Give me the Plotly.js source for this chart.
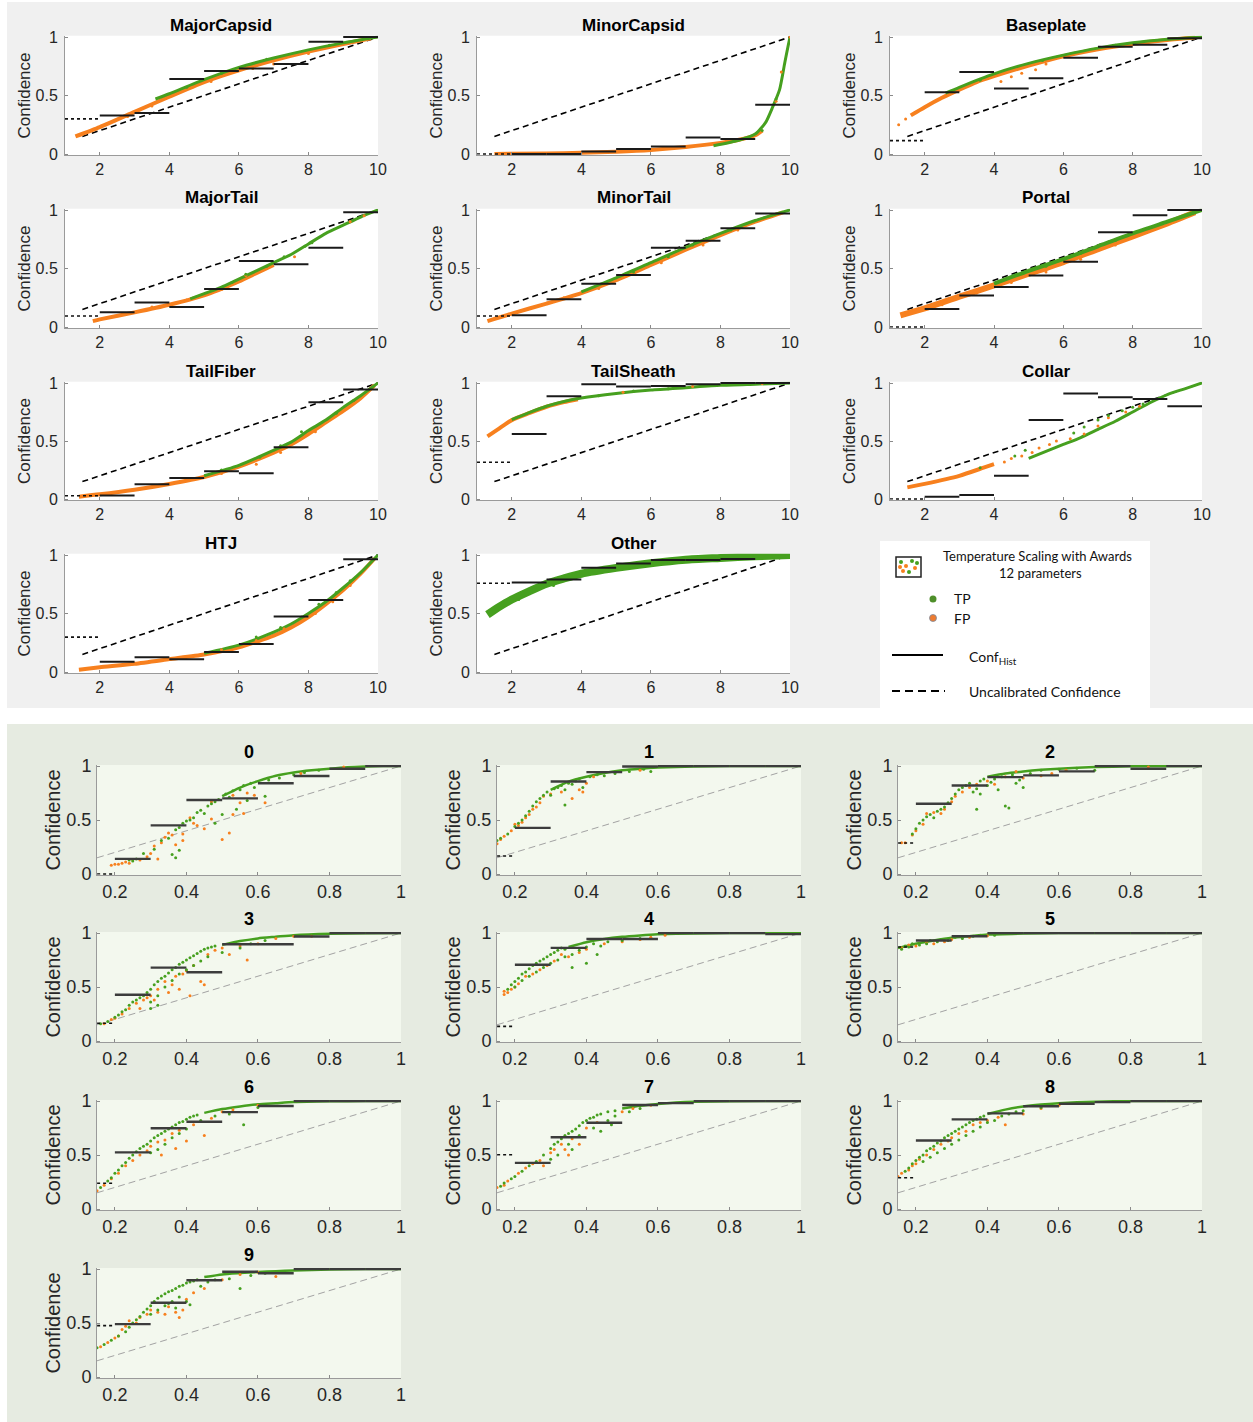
<!DOCTYPE html>
<html><head><meta charset="utf-8">
<script src="https://cdn.plot.ly/plotly-3.0.1.min.js"></script>
<style>html,body{margin:0;padding:0;background:#fff;}#chart{width:1253px;height:1422px;}</style>
</head><body><div id="chart"></div>
<script>
// ---------------- DATA: top panel (per-class calibration) ----------------
const topNames = ['MajorCapsid','MinorCapsid','Baseplate','MajorTail','MinorTail','Portal','TailFiber','TailSheath','Collar','HTJ','Other'];
const topBinEdges = [1,2,3,4,5,6,7,8,9,10];
const topXTickVals = [2,4,6,8,10];
const topXTickText = ['2','4','6','8','10'];
const yTickVals = [0,0.5,1];
const yTickText = ['0','0.5','1'];
const topUncal = [[1.5,0.15],[10,1.0]];
// ConfHist per bin (first bin drawn dotted)
const topHist = [
  [0.30,0.33,0.35,0.64,0.71,0.73,0.77,0.96,1.00],
  [0.00,0.00,0.00,0.022,0.043,0.065,0.142,0.129,0.42],
  [0.114,0.528,0.70,0.56,0.648,0.823,0.917,0.934,0.99],
  [0.094,0.126,0.21,0.17,0.325,0.564,0.536,0.678,0.98],
  [0.094,0.10,0.237,0.37,0.444,0.678,0.738,0.843,0.97],
  [0.00,0.154,0.27,0.342,0.44,0.558,0.81,0.955,1.00],
  [0.028,0.03,0.128,0.18,0.24,0.223,0.446,0.834,0.943],
  [0.317,0.56,0.885,0.99,0.97,0.975,0.99,1.00,1.00],
  [0.00,0.02,0.034,0.20,0.68,0.91,0.877,0.862,0.80],
  [0.298,0.088,0.125,0.11,0.17,0.239,0.474,0.616,0.963],
  [0.758,0.765,0.79,0.89,0.927,0.957,0.957,0.965,null]
];
// TP band (green) read along the dense cloud
const topTPcurve = [
  [[3.6,0.47],[4,0.515],[5,0.635],[6,0.74],[7,0.82],[8,0.89],[9,0.95],[10,1.0]],
  [[7.8,0.07],[8.5,0.115],[9.0,0.17],[9.3,0.27],[9.5,0.4],[9.7,0.55],[9.85,0.78],[9.95,0.93],[10,1.0]],
  [[2.6,0.52],[3,0.57],[4,0.685],[5,0.775],[6,0.845],[7,0.905],[8,0.95],[9,0.98],[10,1.0]],
  [[4.6,0.24],[5.5,0.34],[6.5,0.48],[7,0.55],[7.5,0.62],[8,0.71],[8.5,0.8],[9,0.87],[9.5,0.94],[10,1.0]],
  [[4,0.3],[5,0.42],[6,0.55],[7,0.68],[8,0.8],[9,0.91],[10,1.0]],
  [[4,0.37],[5,0.48],[6,0.58],[7,0.69],[8,0.8],[9,0.9],[10,1.0]],
  [[5,0.2],[6,0.29],[7,0.42],[7.5,0.49],[8,0.59],[8.5,0.68],[9,0.79],[9.5,0.89],[10,1.0]],
  [[2,0.685],[2.5,0.745],[3,0.8],[3.5,0.84],[4,0.87],[5,0.91],[6,0.94],[7,0.96],[8,0.98],[9,0.99],[10,1.0]],
  [[5,0.35],[5.5,0.41],[6,0.47],[6.5,0.53],[7,0.6],[7.5,0.67],[8,0.75],[8.5,0.83],[9,0.9],[9.5,0.95],[10,1.0]],
  [[5,0.16],[6,0.23],[7,0.34],[7.5,0.41],[8,0.5],[8.5,0.6],[9,0.72],[9.5,0.85],[10,1.0]],
  [[1.3,0.49],[1.6,0.55],[2,0.62],[2.5,0.69],[3,0.755],[3.5,0.8],[4,0.84],[5,0.89],[6,0.93],[7,0.96],[8,0.975],[9,0.99],[10,1.0]]
];
// FP band (orange)
const topFPcurve = [
  [[1.3,0.15],[2,0.23],[3,0.36],[4,0.49],[5,0.615],[6,0.715],[7,0.8],[8,0.875],[9,0.94],[9.8,0.99]],
  [[1.5,0.0],[3,0.005],[4,0.01],[5,0.02],[6,0.035],[7,0.06],[8,0.095],[8.5,0.12],[9,0.16],[9.2,0.2]],
  [[1.6,0.33],[2,0.4],[2.5,0.48],[3,0.55],[3.5,0.615],[4,0.665],[5,0.755],[6,0.835],[7,0.895],[8,0.94],[9,0.975],[9.8,0.995]],
  [[1.8,0.05],[2,0.065],[3,0.125],[4,0.19],[5,0.27],[6,0.39],[6.5,0.46],[7,0.53]],
  [[1.3,0.05],[2,0.115],[3,0.2],[4,0.29],[5,0.4],[6,0.53],[7,0.66],[8,0.785],[9,0.9],[9.8,0.98]],
  [[1.3,0.1],[2,0.16],[3,0.26],[4,0.355],[5,0.455],[6,0.555],[7,0.665],[8,0.775],[9,0.885],[9.8,0.98]],
  [[1.4,0.02],[2,0.04],[3,0.08],[4,0.13],[5,0.19],[6,0.28],[7,0.4],[7.5,0.47],[8,0.56],[8.5,0.66],[9,0.76],[9.5,0.87],[9.9,0.98]],
  [[1.3,0.54],[1.6,0.6],[2,0.68],[2.5,0.74],[3,0.795],[3.5,0.835],[3.9,0.86]],
  [[1.5,0.1],[2,0.13],[3,0.2],[3.7,0.27],[4,0.3]],
  [[1.4,0.02],[2,0.04],[3,0.07],[4,0.11],[5,0.15],[6,0.21],[7,0.31],[7.5,0.38],[8,0.47],[8.5,0.58],[9,0.7],[9.5,0.84],[9.9,0.97]],
  []
];
// scattered TP / FP dots off the bands
const topTPpts = [
  [[4.5,0.57],[5.5,0.69],[6.8,0.81],[8.6,0.93]],
  [[9.2,0.2],[9.6,0.47]],
  [[3.6,0.63],[5.4,0.8],[7.5,0.93]],
  [[5.8,0.38],[6.2,0.45],[6.8,0.52],[7.3,0.6],[7.9,0.69],[8.1,0.72]],
  [[5.5,0.47],[6.5,0.6],[7.2,0.7],[8.3,0.83],[8.6,0.85]],
  [[5.5,0.52],[6.5,0.63],[7.5,0.74],[8.5,0.85]],
  [[5.5,0.25],[6.6,0.36],[7.2,0.46],[7.8,0.58],[8.8,0.74],[9.3,0.85]],
  [[4.5,0.89],[5.5,0.93],[6.5,0.95]],
  [[3.6,0.27],[4.6,0.37],[4.9,0.42],[6.3,0.57],[6.6,0.62],[7.0,0.68],[7.3,0.72],[7.7,0.76],[8.0,0.79],[8.3,0.82]],
  [[6.5,0.3],[7.2,0.38],[7.8,0.47],[8.3,0.58],[8.8,0.68],[9.2,0.78]],
  [[2.2,0.62],[3.2,0.74],[4.5,0.85],[5.5,0.9],[6.5,0.93]]
];
const topFPpts = [
  [[2.8,0.32],[3.5,0.41],[5.2,0.62],[6.4,0.73],[7,0.77],[8,0.86]],
  [[9.6,0.45],[9.75,0.7],[10,1.0]],
  [[1.25,0.25],[1.45,0.3],[4.2,0.62],[4.5,0.66],[4.8,0.69],[5.2,0.72],[5.5,0.77]],
  [[3.5,0.17],[4.5,0.23],[5.5,0.32],[6.2,0.44],[7.6,0.6],[9.2,0.9],[9.6,0.95]],
  [[3.5,0.25],[4.5,0.33],[5.5,0.46],[6.3,0.55],[7.5,0.7],[8.5,0.83]],
  [[2.5,0.19],[3.5,0.29],[4.5,0.38],[5.5,0.47],[6.5,0.58],[7.5,0.7]],
  [[4.5,0.17],[5.5,0.22],[6.5,0.3],[7.2,0.4],[8.2,0.58]],
  [[5.2,0.92],[7.2,0.97],[9.2,0.995]],
  [[4.3,0.32],[4.5,0.35],[4.8,0.37],[5.1,0.4],[5.3,0.44],[5.6,0.47],[5.8,0.5],[6.2,0.52],[6.6,0.56],[7.0,0.63],[7.3,0.7],[7.8,0.75],[8.2,0.8]],
  [[5.5,0.19],[6.5,0.27],[7.3,0.37],[8.2,0.5],[8.7,0.6],[9.2,0.74]],
  []
];

// ---------------- DATA: bottom panel (digits 0-9) ----------------
const botNames = ['0','1','2','3','4','5','6','7','8','9'];
const botBinEdges = [0.1,0.2,0.3,0.4,0.5,0.6,0.7,0.8,0.9,1.0];
const botXTickVals = [0.2,0.4,0.6,0.8,1];
const botXTickText = ['0.2','0.4','0.6','0.8','1'];
const botUncal = [[0.15,0.15],[1.0,1.0]];
const botHist = [
  [0.00,0.14,0.45,0.685,0.70,0.84,0.908,0.975,1.0],
  [0.167,0.427,0.857,0.943,0.995,1.0,1.0,1.0,1.0],
  [0.287,0.65,0.82,0.897,0.913,0.95,1.0,0.975,1.0],
  [0.165,0.428,0.679,0.636,0.896,0.896,0.967,1.0,1.0],
  [0.135,0.706,0.862,0.945,0.945,1.0,1.0,1.0,0.99],
  [0.87,0.93,0.97,1.0,1.0,1.0,1.0,1.0,1.0],
  [0.238,0.524,0.747,0.808,0.897,0.954,1.0,1.0,1.0],
  [0.503,0.427,0.665,0.799,0.963,0.98,1.0,1.0,1.0],
  [0.29,0.634,0.83,0.885,0.951,0.975,0.99,1.0,1.0],
  [0.476,0.49,0.687,0.896,0.975,0.96,1.0,1.0,1.0]
];
const botTPcurve = [
  [[0.5,0.72],[0.55,0.8],[0.6,0.86],[0.65,0.91],[0.7,0.94],[0.75,0.96],[0.8,0.975],[0.85,0.988],[0.9,0.995],[0.95,0.999],[1.0,1.0]],
  [[0.3,0.78],[0.35,0.855],[0.4,0.9],[0.45,0.935],[0.5,0.96],[0.55,0.975],[0.6,0.985],[0.7,0.995],[0.8,1.0],[1.0,1.0]],
  [[0.4,0.9],[0.45,0.93],[0.5,0.95],[0.55,0.965],[0.6,0.975],[0.7,0.99],[0.8,0.997],[1.0,1.0]],
  [[0.5,0.89],[0.55,0.925],[0.6,0.95],[0.65,0.965],[0.7,0.98],[0.8,0.993],[0.9,0.998],[1.0,1.0]],
  [[0.35,0.87],[0.4,0.915],[0.45,0.945],[0.5,0.965],[0.55,0.978],[0.6,0.988],[0.7,0.996],[0.8,0.999],[1.0,1.0]],
  [[0.15,0.86],[0.2,0.9],[0.25,0.93],[0.3,0.955],[0.35,0.97],[0.4,0.985],[0.5,0.995],[0.6,1.0],[1.0,1.0]],
  [[0.45,0.89],[0.5,0.925],[0.55,0.95],[0.6,0.97],[0.65,0.98],[0.7,0.99],[0.8,0.997],[0.9,1.0],[1.0,1.0]],
  [[0.5,0.93],[0.55,0.955],[0.6,0.972],[0.65,0.985],[0.7,0.993],[0.8,0.998],[1.0,1.0]],
  [[0.4,0.88],[0.45,0.92],[0.5,0.95],[0.55,0.968],[0.6,0.98],[0.65,0.988],[0.7,0.994],[0.8,0.999],[1.0,1.0]],
  [[0.45,0.925],[0.5,0.95],[0.55,0.962],[0.6,0.972],[0.65,0.98],[0.7,0.986],[0.8,0.995],[0.9,0.999],[1.0,1.0]]
];
const botTPpts = [
  [[0.24,0.13],[0.25,0.12],[0.26,0.14],[0.28,0.19],[0.31,0.23],[0.33,0.31],[0.35,0.33],[0.36,0.18],[0.37,0.15],[0.37,0.41],[0.38,0.43],[0.38,0.22],[0.39,0.47],[0.4,0.49],[0.41,0.5],[0.42,0.52],[0.43,0.57],[0.44,0.59],[0.45,0.56],[0.46,0.63],[0.47,0.65],[0.48,0.67],[0.48,0.47],[0.49,0.69],[0.5,0.55],[0.51,0.74],[0.52,0.71],[0.53,0.77],[0.54,0.6],[0.55,0.78],[0.56,0.82],[0.57,0.68],[0.58,0.84],[0.59,0.8],[0.62,0.72],[0.63,0.87],[0.66,0.89],[0.7,0.92],[0.73,0.94],[0.77,0.96]],
  [[0.15,0.31],[0.16,0.33],[0.18,0.37],[0.2,0.44],[0.21,0.47],[0.22,0.5],[0.23,0.54],[0.24,0.58],[0.25,0.63],[0.26,0.67],[0.27,0.7],[0.28,0.73],[0.29,0.76],[0.3,0.73],[0.31,0.79],[0.32,0.8],[0.33,0.82],[0.34,0.78],[0.35,0.84],[0.36,0.83],[0.37,0.86],[0.38,0.88],[0.34,0.64],[0.39,0.8],[0.41,0.9],[0.43,0.92],[0.45,0.91],[0.48,0.93],[0.52,0.95],[0.56,0.97],[0.58,0.95]],
  [[0.19,0.37],[0.2,0.42],[0.21,0.47],[0.22,0.5],[0.23,0.53],[0.24,0.55],[0.25,0.52],[0.26,0.58],[0.27,0.6],[0.28,0.62],[0.29,0.66],[0.3,0.7],[0.31,0.74],[0.32,0.78],[0.33,0.8],[0.34,0.82],[0.35,0.84],[0.36,0.76],[0.37,0.79],[0.38,0.74],[0.38,0.86],[0.39,0.88],[0.4,0.82],[0.41,0.85],[0.42,0.88],[0.43,0.78],[0.44,0.9],[0.45,0.63],[0.46,0.61],[0.47,0.92],[0.48,0.84],[0.49,0.87],[0.5,0.8],[0.52,0.93],[0.55,0.96],[0.6,0.97],[0.65,0.98],[0.7,0.96],[0.37,0.6]],
  [[0.16,0.16],[0.18,0.18],[0.2,0.22],[0.21,0.24],[0.22,0.27],[0.23,0.29],[0.24,0.33],[0.25,0.36],[0.26,0.38],[0.27,0.4],[0.28,0.42],[0.29,0.45],[0.3,0.48],[0.31,0.52],[0.32,0.55],[0.33,0.58],[0.34,0.6],[0.35,0.63],[0.36,0.66],[0.37,0.68],[0.38,0.71],[0.39,0.73],[0.4,0.75],[0.41,0.77],[0.42,0.79],[0.43,0.81],[0.44,0.83],[0.45,0.85],[0.46,0.86],[0.47,0.87],[0.48,0.88],[0.3,0.36],[0.32,0.42],[0.34,0.5],[0.36,0.56],[0.38,0.62],[0.4,0.66],[0.42,0.7],[0.44,0.74],[0.46,0.78],[0.5,0.82],[0.55,0.86],[0.58,0.9],[0.62,0.93],[0.3,0.3],[0.32,0.33]],
  [[0.18,0.48],[0.19,0.52],[0.2,0.55],[0.21,0.58],[0.22,0.62],[0.23,0.64],[0.24,0.67],[0.25,0.7],[0.26,0.72],[0.27,0.74],[0.28,0.76],[0.29,0.78],[0.3,0.8],[0.31,0.82],[0.32,0.84],[0.33,0.86],[0.34,0.85],[0.2,0.5],[0.22,0.56],[0.24,0.6],[0.26,0.64],[0.28,0.68],[0.3,0.72],[0.32,0.75],[0.34,0.78],[0.36,0.8],[0.38,0.84],[0.4,0.87],[0.42,0.9],[0.44,0.88],[0.46,0.92],[0.5,0.93],[0.55,0.95],[0.36,0.68],[0.4,0.72],[0.43,0.8]],
  [[0.16,0.85],[0.17,0.88],[0.18,0.87],[0.19,0.9],[0.21,0.89],[0.22,0.92],[0.23,0.9],[0.24,0.93],[0.26,0.92],[0.27,0.94],[0.29,0.93],[0.31,0.96],[0.33,0.95],[0.36,0.97],[0.38,0.98],[0.42,0.98]],
  [[0.16,0.2],[0.18,0.26],[0.19,0.29],[0.2,0.33],[0.21,0.36],[0.22,0.4],[0.23,0.43],[0.24,0.47],[0.25,0.5],[0.26,0.53],[0.27,0.56],[0.28,0.58],[0.29,0.6],[0.3,0.63],[0.31,0.66],[0.32,0.68],[0.33,0.7],[0.34,0.72],[0.35,0.74],[0.36,0.76],[0.37,0.78],[0.38,0.8],[0.39,0.81],[0.4,0.83],[0.41,0.85],[0.42,0.86],[0.43,0.87],[0.3,0.52],[0.32,0.55],[0.34,0.6],[0.36,0.66],[0.38,0.7],[0.4,0.74],[0.44,0.82],[0.48,0.86],[0.52,0.88],[0.56,0.78],[0.6,0.94]],
  [[0.16,0.21],[0.17,0.24],[0.19,0.28],[0.2,0.3],[0.22,0.35],[0.24,0.4],[0.26,0.44],[0.28,0.5],[0.3,0.56],[0.31,0.6],[0.32,0.62],[0.33,0.65],[0.34,0.68],[0.35,0.7],[0.36,0.72],[0.37,0.74],[0.38,0.77],[0.39,0.8],[0.4,0.82],[0.41,0.84],[0.42,0.85],[0.43,0.87],[0.44,0.88],[0.46,0.9],[0.48,0.91],[0.35,0.6],[0.38,0.68],[0.42,0.75],[0.46,0.82],[0.48,0.86],[0.52,0.9],[0.55,0.93],[0.3,0.46],[0.32,0.5],[0.36,0.55],[0.44,0.72],[0.47,0.78]],
  [[0.17,0.35],[0.18,0.38],[0.19,0.42],[0.2,0.45],[0.21,0.48],[0.22,0.5],[0.23,0.54],[0.24,0.56],[0.25,0.58],[0.26,0.61],[0.27,0.63],[0.28,0.66],[0.29,0.68],[0.3,0.7],[0.31,0.72],[0.32,0.74],[0.33,0.76],[0.34,0.78],[0.35,0.8],[0.36,0.82],[0.37,0.83],[0.38,0.85],[0.39,0.86],[0.22,0.44],[0.24,0.48],[0.26,0.52],[0.28,0.56],[0.3,0.6],[0.32,0.64],[0.34,0.68],[0.36,0.72],[0.38,0.76],[0.4,0.8],[0.42,0.82],[0.44,0.86],[0.46,0.88],[0.48,0.9],[0.5,0.91],[0.55,0.94]],
  [[0.15,0.27],[0.17,0.3],[0.19,0.34],[0.21,0.38],[0.23,0.42],[0.24,0.46],[0.25,0.5],[0.26,0.53],[0.27,0.56],[0.28,0.6],[0.29,0.63],[0.3,0.66],[0.31,0.7],[0.32,0.73],[0.33,0.75],[0.34,0.77],[0.35,0.79],[0.36,0.8],[0.37,0.82],[0.38,0.84],[0.39,0.85],[0.4,0.87],[0.41,0.88],[0.42,0.89],[0.43,0.9],[0.3,0.58],[0.32,0.62],[0.34,0.66],[0.36,0.7],[0.38,0.74],[0.4,0.7],[0.41,0.67],[0.44,0.84],[0.46,0.88],[0.48,0.9],[0.52,0.91],[0.55,0.82],[0.58,0.94],[0.62,0.96],[0.35,0.68],[0.37,0.64]]
];
const botFPpts = [
  [[0.19,0.08],[0.2,0.09],[0.21,0.09],[0.22,0.1],[0.23,0.11],[0.24,0.1],[0.25,0.13],[0.27,0.13],[0.29,0.16],[0.3,0.19],[0.31,0.26],[0.32,0.14],[0.33,0.29],[0.34,0.34],[0.35,0.38],[0.36,0.36],[0.37,0.27],[0.39,0.31],[0.39,0.37],[0.41,0.52],[0.42,0.47],[0.43,0.45],[0.45,0.42],[0.47,0.51],[0.5,0.32],[0.52,0.38],[0.53,0.55],[0.55,0.66],[0.56,0.56],[0.57,0.75],[0.59,0.73],[0.62,0.66],[0.47,0.67],[0.53,0.73],[0.72,0.93],[0.84,0.99]],
  [[0.15,0.28],[0.16,0.32],[0.17,0.35],[0.19,0.4],[0.2,0.46],[0.21,0.45],[0.22,0.48],[0.23,0.52],[0.24,0.55],[0.25,0.6],[0.26,0.62],[0.27,0.66],[0.28,0.72],[0.3,0.74],[0.33,0.76],[0.36,0.7],[0.38,0.78],[0.39,0.76],[0.4,0.84],[0.42,0.9],[0.55,0.96]],
  [[0.16,0.29],[0.17,0.29],[0.19,0.36],[0.2,0.4],[0.22,0.46],[0.23,0.56],[0.25,0.57],[0.27,0.56],[0.28,0.6],[0.3,0.67],[0.31,0.72],[0.33,0.76],[0.35,0.8],[0.37,0.83],[0.4,0.86],[0.42,0.83],[0.45,0.9],[0.48,0.95],[0.5,0.89],[0.55,0.91],[0.58,0.93],[0.62,0.96],[0.85,0.99]],
  [[0.17,0.16],[0.19,0.2],[0.2,0.21],[0.22,0.25],[0.24,0.3],[0.26,0.35],[0.27,0.3],[0.28,0.38],[0.29,0.4],[0.3,0.42],[0.31,0.38],[0.32,0.48],[0.34,0.55],[0.35,0.45],[0.36,0.52],[0.37,0.6],[0.38,0.48],[0.39,0.62],[0.4,0.65],[0.41,0.42],[0.42,0.7],[0.44,0.55],[0.45,0.52],[0.46,0.8],[0.48,0.84],[0.5,0.86],[0.52,0.8],[0.55,0.88],[0.57,0.75],[0.6,0.9],[0.65,0.95],[0.7,0.97],[0.75,0.97]],
  [[0.17,0.43],[0.17,0.46],[0.18,0.45],[0.19,0.48],[0.2,0.5],[0.21,0.53],[0.23,0.6],[0.25,0.62],[0.27,0.66],[0.29,0.7],[0.31,0.74],[0.33,0.8],[0.35,0.78],[0.38,0.82],[0.4,0.85],[0.45,0.9],[0.5,0.92],[0.55,0.94],[0.58,0.96],[0.62,0.98]],
  [[0.16,0.86],[0.18,0.89],[0.2,0.88],[0.23,0.91],[0.25,0.9],[0.28,0.92],[0.3,0.94],[0.35,0.96],[0.4,0.975]],
  [[0.15,0.17],[0.17,0.22],[0.19,0.28],[0.21,0.33],[0.23,0.4],[0.25,0.45],[0.27,0.5],[0.29,0.54],[0.3,0.58],[0.32,0.62],[0.34,0.64],[0.36,0.7],[0.38,0.73],[0.4,0.63],[0.42,0.78],[0.45,0.68],[0.47,0.84],[0.5,0.9],[0.53,0.92],[0.6,0.96],[0.33,0.5],[0.37,0.56]],
  [[0.15,0.2],[0.17,0.22],[0.18,0.26],[0.21,0.33],[0.23,0.38],[0.25,0.42],[0.27,0.45],[0.28,0.4],[0.3,0.52],[0.31,0.55],[0.33,0.6],[0.34,0.55],[0.35,0.5],[0.36,0.65],[0.38,0.6],[0.4,0.75],[0.43,0.8],[0.5,0.9],[0.53,0.93],[0.58,0.96]],
  [[0.15,0.3],[0.16,0.33],[0.18,0.36],[0.19,0.4],[0.2,0.42],[0.21,0.46],[0.23,0.5],[0.25,0.55],[0.27,0.6],[0.29,0.63],[0.3,0.66],[0.32,0.7],[0.34,0.72],[0.36,0.78],[0.38,0.8],[0.4,0.82],[0.43,0.85],[0.45,0.78],[0.5,0.88],[0.55,0.93],[0.6,0.96]],
  [[0.16,0.28],[0.18,0.32],[0.2,0.36],[0.21,0.38],[0.22,0.44],[0.23,0.47],[0.24,0.52],[0.26,0.5],[0.27,0.55],[0.29,0.58],[0.3,0.62],[0.32,0.6],[0.34,0.58],[0.35,0.65],[0.37,0.6],[0.38,0.55],[0.39,0.62],[0.4,0.72],[0.42,0.78],[0.45,0.82],[0.5,0.9],[0.55,0.95],[0.6,0.97],[0.65,0.93]]
];

// ---------------- STYLE / LAYOUT ----------------
const W = 1253, H = 1422;
const TP_COLOR = '#46a01f', FP_COLOR = '#f7801e';
const P = v => v / W, Q = v => 1 - v / H;
const topCols = [[65,378],[477,790],[890,1202]];
const topRows = [[37,154],[210,327],[383,499],[555,672]];
const botCols = [[97,401],[497,801],[898,1202]];
const botRows = [[766,874],[933,1041],[1101,1209],[1269,1377]];
const topBandW = {Portal:[6,4], Other:[4,8]};

const data = [], shapes = [], annotations = [];
const layout = {
  width: W, height: H, margin: {l:0,r:0,t:0,b:0},
  paper_bgcolor: '#ffffff', plot_bgcolor: 'rgba(0,0,0,0)',
  showlegend: false, hovermode: false,
  font: {family: 'Liberation Sans, Arial, sans-serif', color: '#262626'}
};

// panel backgrounds
shapes.push({type:'rect', xref:'paper', yref:'paper', x0:P(7), x1:1, y0:Q(708), y1:Q(2), fillcolor:'#f0f0f0', line:{width:0}, layer:'below'});
shapes.push({type:'rect', xref:'paper', yref:'paper', x0:P(7), x1:1, y0:0, y1:Q(724), fillcolor:'#e6ebe1', line:{width:0}, layer:'below'});

const cols = pairs => ({x: pairs.map(p => p[0]), y: pairs.map(p => p[1])});
let k = 0;
function addSubplot(o) {
  k++;
  const xs = k === 1 ? 'x' : 'x' + k, ys = k === 1 ? 'y' : 'y' + k;
  const xk = k === 1 ? 'xaxis' : 'xaxis' + k, yk = k === 1 ? 'yaxis' : 'yaxis' + k;
  const [l, r] = o.col, [t, b] = o.row;
  const u = b - t;
  layout[xk] = {
    domain: [P(l), P(r)], range: o.xr, anchor: ys,
    tickvals: o.xtv, ticktext: o.xtt, ticks: 'inside', ticklen: 3, tickcolor: '#8a8a8a',
    showline: true, linecolor: '#9a9a9a', linewidth: 1, showgrid: false, zeroline: false,
    tickfont: {size: o.tickSize, color: '#262626'}, ticklabelstandoff: o.xStand, fixedrange: true
  };
  layout[yk] = {
    domain: [Q(b + 0.01 * u), Q(t - 0.01 * u)], range: [-0.01, 1.01], anchor: xs,
    tickvals: yTickVals, ticktext: yTickText, ticks: 'inside', ticklen: 3, tickcolor: '#8a8a8a',
    showline: true, linecolor: '#9a9a9a', linewidth: 1, showgrid: false, zeroline: false,
    tickfont: {size: o.tickSize, color: '#262626'}, ticklabelstandoff: o.yStand, fixedrange: true,
    title: {text: 'Confidence', font: {size: o.ytSize, color: '#262626'}, standoff: o.ytStand}
  };
  shapes.push({type:'rect', xref: xs + ' domain', yref: ys + ' domain', x0:0, x1:1, y0:0, y1:1,
               fillcolor: o.plotBg, line:{width:0}, layer:'below'});
  annotations.push({xref:'paper', yref:'paper', x: P((l + r) / 2), y: Q(t - o.titleOff),
    text: '<b>' + o.name + '</b>', showarrow: false, xanchor:'center', yanchor:'middle',
    font: {size: o.titleSize, color: '#000000'}});

  const base = {type:'scatter', xaxis: xs, yaxis: ys, hoverinfo:'skip'};
  const un = cols(o.uncal);
  data.push(Object.assign({}, base, {x: un.x, y: un.y, mode:'lines', line: o.uncalLine}));
  if (o.fpCurve && o.fpCurve.length) {
    const c = cols(o.fpCurve);
    data.push(Object.assign({}, base, {x:c.x, y:c.y, mode:'lines', line:{color:FP_COLOR, width:o.fpW, shape:'spline', smoothing:0.6}}));
  }
  if (o.tpCurve && o.tpCurve.length) {
    const c = cols(o.tpCurve);
    data.push(Object.assign({}, base, {x:c.x, y:c.y, mode:'lines', line:{color:TP_COLOR, width:o.tpW, shape:'spline', smoothing:0.6}}));
  }
  if (o.fpPts && o.fpPts.length) {
    const c = cols(o.fpPts);
    data.push(Object.assign({}, base, {x:c.x, y:c.y, mode:'markers', marker:{color:FP_COLOR, size:o.ms, line:{width:0}}}));
  }
  if (o.tpPts && o.tpPts.length) {
    const c = cols(o.tpPts);
    data.push(Object.assign({}, base, {x:c.x, y:c.y, mode:'markers', marker:{color:TP_COLOR, size:o.ms, line:{width:0}}}));
  }
  // ConfHist: first bin dotted, rest solid
  const e = o.edges, h = o.hist;
  data.push(Object.assign({}, base, {x:[e[0], e[1]], y:[h[0], h[0]], mode:'lines',
    line:{color:'#111111', width:1.6, dash:'dot'}}));
  const hx = [], hy = [];
  for (let i = 1; i < h.length; i++) {
    if (h[i] === null) continue;
    hx.push(e[i], e[i + 1], null); hy.push(h[i], h[i], null);
  }
  data.push(Object.assign({}, base, {x:hx, y:hy, mode:'lines', line:{color:o.histColor, width:o.histW}}));
}

topNames.forEach((name, i) => {
  const bw = topBandW[name] || [4, 3];
  addSubplot({
    name, col: topCols[i % 3], row: topRows[Math.floor(i / 3)],
    xr: [1, 10], xtv: topXTickVals, xtt: topXTickText, tickSize: 16, xStand: 0, yStand: 3,
    ytSize: 17, ytStand: 0, titleSize: 17, titleOff: 12, plotBg: '#ffffff',
    uncal: topUncal, uncalLine: {color:'#000000', width:1.6, dash:'6px,4px'},
    fpCurve: topFPcurve[i], tpCurve: topTPcurve[i], fpPts: topFPpts[i], tpPts: topTPpts[i],
    fpW: bw[0], tpW: bw[1], ms: 3,
    edges: topBinEdges, hist: topHist[i], histColor: '#1a1a1a', histW: 2
  });
});
botNames.forEach((name, i) => {
  addSubplot({
    name, col: botCols[i % 3], row: botRows[Math.floor(i / 3)],
    xr: [0.15, 1], xtv: botXTickVals, xtt: botXTickText, tickSize: 18, xStand: 0, yStand: 1,
    ytSize: 20, ytStand: 0, titleSize: 18, titleOff: 14, plotBg: '#f3f8ee',
    uncal: botUncal, uncalLine: {color:'#a3a3a3', width:1, dash:'7px,4px'},
    fpCurve: [], tpCurve: botTPcurve[i], fpPts: botFPpts[i], tpPts: botTPpts[i],
    fpW: 2, tpW: 2.5, ms: 3,
    edges: botBinEdges, hist: botHist[i], histColor: '#3c3c3c', histW: 2.4
  });
});

// ---------------- legend (decoration) ----------------
shapes.push({type:'rect', xref:'paper', yref:'paper', x0:P(880), x1:P(1150), y0:Q(708), y1:Q(541), fillcolor:'#ffffff', line:{width:0}, layer:'below'});
shapes.push({type:'rect', xref:'paper', yref:'paper', x0:P(896), x1:P(921), y0:Q(577), y1:Q(557), fillcolor:'#ffffff', line:{color:'#222', width:1.5}});
[[901,562,TP_COLOR],[906,566,FP_COLOR],[912,561,TP_COLOR],[915,568,FP_COLOR],[903,571,FP_COLOR],[909,572,TP_COLOR],[917,563,TP_COLOR],[900,567,FP_COLOR]].forEach(d => {
  shapes.push({type:'circle', xref:'paper', yref:'paper', x0:P(d[0]-2), x1:P(d[0]+2), y0:Q(d[1]+2), y1:Q(d[1]-2), fillcolor:d[2], line:{width:0}});
});
shapes.push({type:'circle', xref:'paper', yref:'paper', x0:P(929.5), x1:P(936.5), y0:Q(602.5), y1:Q(595.5), fillcolor:'#4e8f2a', line:{width:0}});
shapes.push({type:'circle', xref:'paper', yref:'paper', x0:P(929.5), x1:P(936.5), y0:Q(621.5), y1:Q(614.5), fillcolor:'#ee7b30', line:{color:'#7a8aa0', width:0.8}});
shapes.push({type:'line', xref:'paper', yref:'paper', x0:P(892), x1:P(943), y0:Q(655), y1:Q(655), line:{color:'#000', width:2}});
shapes.push({type:'line', xref:'paper', yref:'paper', x0:P(892), x1:P(945), y0:Q(691), y1:Q(691), line:{color:'#000', width:2, dash:'8px,5px'}});
const legFont = {family:'Lato, Open Sans, sans-serif', color:'#111111'};
annotations.push({xref:'paper', yref:'paper', x:P(1037), y:Q(556), text:'Temperature Scaling with Awards', showarrow:false, xanchor:'center', yanchor:'middle', font:Object.assign({size:13}, legFont)});
annotations.push({xref:'paper', yref:'paper', x:P(1040), y:Q(573), text:'12 parameters', showarrow:false, xanchor:'center', yanchor:'middle', font:Object.assign({size:13}, legFont)});
annotations.push({xref:'paper', yref:'paper', x:P(952), y:Q(599), text:'TP', showarrow:false, xanchor:'left', yanchor:'middle', font:Object.assign({size:14}, legFont)});
annotations.push({xref:'paper', yref:'paper', x:P(952), y:Q(618), text:'FP', showarrow:false, xanchor:'left', yanchor:'middle', font:Object.assign({size:14}, legFont)});
annotations.push({xref:'paper', yref:'paper', x:P(967), y:Q(657), text:'Conf<sub>Hist</sub>', showarrow:false, xanchor:'left', yanchor:'middle', font:Object.assign({size:14}, legFont)});
annotations.push({xref:'paper', yref:'paper', x:P(967), y:Q(691), text:'Uncalibrated Confidence', showarrow:false, xanchor:'left', yanchor:'middle', font:Object.assign({size:14}, legFont)});

layout.shapes = shapes;
layout.annotations = annotations;
Plotly.newPlot('chart', data, layout, {displayModeBar:false, staticPlot:true});
</script></body></html>
